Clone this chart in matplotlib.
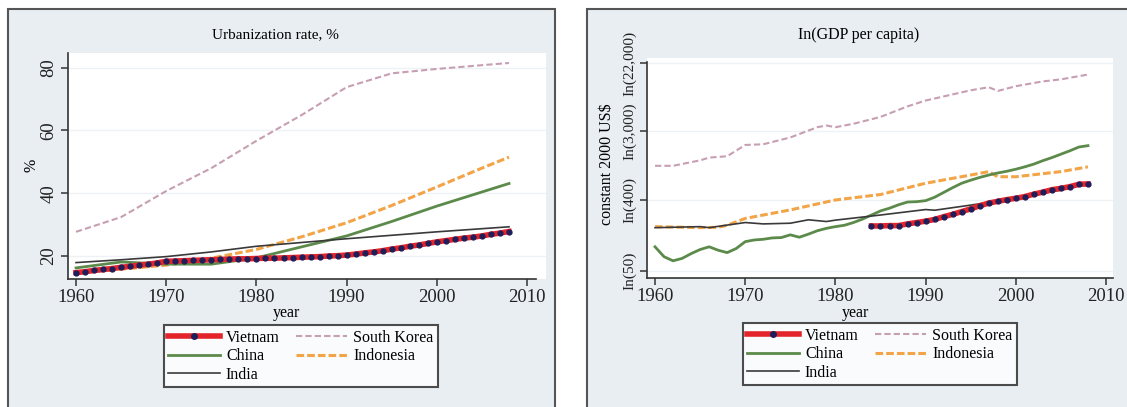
import numpy as np
import matplotlib.pyplot as plt
from matplotlib.lines import Line2D
from matplotlib.patches import Rectangle

plt.rcParams['font.family'] = ['Liberation Serif', 'DejaVu Serif']

W, H = 1127, 407

# ---- urbanization rate, % ----
urb_years = [1960, 1965, 1970, 1975, 1980, 1985, 1990, 1995, 2000, 2005, 2008]
urb_korea = [27.7, 32.4, 40.7, 48.0, 56.7, 64.9, 73.8, 78.2, 79.6, 80.8, 81.5]
urb_china = [16.2, 18.1, 17.4, 17.4, 19.4, 22.9, 26.4, 31.0, 35.9, 40.4, 43.1]
urb_indonesia = [14.6, 15.8, 17.1, 19.3, 22.1, 26.1, 30.6, 36.1, 42.0, 48.0, 51.5]
urb_india = [17.9, 18.8, 19.8, 21.3, 23.1, 24.3, 25.5, 26.6, 27.7, 28.7, 29.3]

vn_urb_years = list(range(1960, 2009))
vn_urb = [14.7, 15.0, 15.4, 15.7, 16.0, 16.4, 16.7, 17.1, 17.4, 17.8,
          18.3, 18.4, 18.5, 18.6, 18.7, 18.8, 18.9, 19.0, 19.1, 19.1,
          19.2, 19.3, 19.3, 19.4, 19.5, 19.6, 19.7, 19.8, 20.0, 20.1,
          20.3, 20.6, 21.0, 21.3, 21.7, 22.2, 22.6, 23.1, 23.5, 24.0,
          24.5, 24.9, 25.3, 25.7, 26.0, 26.4, 26.9, 27.3, 27.8]

# ---- ln(GDP per capita), constant 2000 US$ ----
kor_years = [1960, 1962, 1965, 1966, 1968, 1970, 1972, 1975, 1978, 1979, 1980,
             1982, 1985, 1988, 1990, 1995, 1997, 1998, 2000, 2003, 2005, 2008]
kor_gdp = [6.99, 6.99, 7.15, 7.23, 7.27, 7.60, 7.62, 7.82, 8.12, 8.17, 8.12,
           8.22, 8.42, 8.73, 8.90, 9.20, 9.29, 9.18, 9.32, 9.46, 9.52, 9.66]

idn_years = [1960, 1965, 1967, 1968, 1970, 1975, 1980, 1985, 1990, 1995,
             1997, 1998, 2000, 2005, 2008]
idn_gdp = [5.21, 5.18, 5.19, 5.25, 5.45, 5.70, 5.99, 6.15, 6.48, 6.72,
           6.82, 6.67, 6.67, 6.82, 6.96]

chn_years = list(range(1960, 2009))
chn_gdp = [4.62, 4.33, 4.21, 4.28, 4.42, 4.54, 4.62, 4.52, 4.45, 4.57,
           4.77, 4.82, 4.84, 4.88, 4.89, 4.97, 4.90, 4.99, 5.09, 5.16,
           5.21, 5.25, 5.33, 5.43, 5.55, 5.67, 5.75, 5.85, 5.93, 5.94,
           5.97, 6.07, 6.21, 6.35, 6.48, 6.57, 6.65, 6.72, 6.78, 6.83,
           6.89, 6.96, 7.04, 7.14, 7.23, 7.33, 7.43, 7.54, 7.58]

ind_years = [1960, 1965, 1966, 1970, 1972, 1975, 1977, 1979, 1980, 1985,
             1990, 1991, 1995, 2000, 2005, 2008]
ind_gdp = [5.18, 5.21, 5.18, 5.33, 5.29, 5.31, 5.41, 5.36, 5.40, 5.55,
           5.71, 5.69, 5.84, 6.04, 6.28, 6.47]

vn_gdp_years = list(range(1984, 2009))
vn_gdp = [5.23, 5.23, 5.24, 5.24, 5.29, 5.33, 5.37, 5.42, 5.50, 5.57,
          5.65, 5.73, 5.82, 5.90, 5.95, 6.00, 6.04, 6.09, 6.16, 6.22,
          6.29, 6.33, 6.38, 6.45, 6.46]

gdp_ticks = [50, 400, 3000, 22000]
gdp_ticklabels = ['In(50)', 'In(400)', 'In(3,000)', 'In(22,000)']

C_VN, C_VN_M = '#e3242b', '#1f1d5a'
C_CHN = '#5b8a4a'
C_IND = '#3a3a3a'
C_KOR = '#c79fb2'
C_IDN = '#f2a447'
BG = '#e8eef2'
FS = 11.5


def fx(px):
    return px / W


def fy(py):
    return 1 - py / H


fig = plt.figure(figsize=(W / 100, H / 100), dpi=100)

# panel frames
for x0, x1 in [(8, 555), (587, 1140)]:
    fig.patches.append(Rectangle((fx(x0), fy(420)), fx(x1) - fx(x0), fy(9) - fy(420),
                                 transform=fig.transFigure, facecolor=BG,
                                 edgecolor='#555555', linewidth=1.5, zorder=-5))


def style_axes(ax, ysize):
    ax.set_facecolor('white')
    for s in ['top', 'right']:
        ax.spines[s].set_visible(False)
    for s in ['left', 'bottom']:
        ax.spines[s].set_color('#333333')
        ax.spines[s].set_linewidth(1.2)
    ax.tick_params(direction='out', length=5, width=1.1, color='#333333',
                   labelcolor='#222222', pad=2.5)
    ax.tick_params(axis='x', labelsize=13.5)
    ax.tick_params(axis='y', labelsize=ysize)
    ax.grid(axis='y', color='#eef2f5', linewidth=1)
    ax.set_axisbelow(True)
    ax.set_xticks([1960, 1970, 1980, 1990, 2000, 2010])
    for lab in ax.get_yticklabels():
        lab.set_rotation(90)
        lab.set_va('center')


def add_legend(ax, cx, top):
    handles = [
        Line2D([], [], color=C_VN, lw=4, marker='o', ms=4, mfc=C_VN_M, mec=C_VN_M),
        Line2D([], [], color=C_CHN, lw=2),
        Line2D([], [], color=C_IND, lw=1.2),
        Line2D([], [], color=C_KOR, lw=1.5, ls=(0, (3, 1.5))),
        Line2D([], [], color=C_IDN, lw=2.2, ls=(0, (2.5, 1))),
    ]
    labels = ['Vietnam', 'China', 'India', 'South Korea', 'Indonesia']
    leg = ax.legend(handles, labels, ncol=2, loc='upper center',
                    bbox_to_anchor=(fx(cx), fy(top)), bbox_transform=fig.transFigure,
                    fontsize=FS, frameon=True, fancybox=False, handlelength=3.2,
                    handletextpad=0.4, columnspacing=1.0, labelspacing=0.15,
                    borderpad=0.3, borderaxespad=0)
    leg.get_frame().set_edgecolor('#222222')
    leg.get_frame().set_linewidth(1.5)


# ---- left panel ----
ax1 = fig.add_axes([fx(68), fy(279), fx(546) - fx(68), fy(53) - fy(279)])
ax1.plot(urb_years, urb_korea, color=C_KOR, lw=1.5, ls=(0, (3, 1.5)))
ax1.plot(urb_years, urb_indonesia, color=C_IDN, lw=2.2, ls=(0, (2.5, 1)))
ax1.plot(urb_years, urb_china, color=C_CHN, lw=2)
ax1.plot(urb_years, urb_india, color=C_IND, lw=1.2)
ax1.plot(vn_urb_years, vn_urb, color=C_VN, lw=4, marker='o', ms=3.5,
         mfc=C_VN_M, mec=C_VN_M)
ax1.set_xlim(1959.11, 2012.1)
ax1.set_ylim(12.67, 84.68)
ax1.spines['bottom'].set_bounds(1959.11, 2011)
ax1.set_yticks([20, 40, 60, 80])
style_axes(ax1, 13.5)
fig.text(fx(32), fy(165), '%', rotation=90, ha='center', va='center', fontsize=FS)
fig.text(fx(286), fy(313), 'year', ha='center', va='center', fontsize=FS)
fig.text(fx(275), fy(35), 'Urbanization rate, %', ha='center', va='center', fontsize=11)
add_legend(ax1, 301, 325)

# ---- right panel ----
ax2 = fig.add_axes([fx(647), fy(278), fx(1113) - fx(647), fy(58) - fy(278)])
ax2.plot(kor_years, kor_gdp, color=C_KOR, lw=1.5, ls=(0, (3, 1.5)))
ax2.plot(idn_years, idn_gdp, color=C_IDN, lw=2.2, ls=(0, (2.5, 1)))
ax2.plot(chn_years, chn_gdp, color=C_CHN, lw=2)
ax2.plot(ind_years, ind_gdp, color=C_IND, lw=1.2)
ax2.plot(vn_gdp_years, vn_gdp, color=C_VN, lw=4, marker='o', ms=3.5,
         mfc=C_VN_M, mec=C_VN_M)
ax2.set_xlim(1959.11, 2010.78)
ax2.set_ylim(3.707, 10.145)
ax2.spines['left'].set_bounds(3.707, 10.03)
ax2.set_yticks(np.log(gdp_ticks))
ax2.set_yticklabels(gdp_ticklabels)
style_axes(ax2, 11)
fig.text(fx(607), fy(164), 'constant 2000 US$', rotation=90, ha='center', va='center',
         fontsize=FS)
fig.text(fx(855), fy(313), 'year', ha='center', va='center', fontsize=FS)
fig.text(fx(859), fy(35), 'In(GDP per capita)', ha='center', va='center', fontsize=FS)
add_legend(ax2, 880, 323)

fig.savefig('out.png', dpi=100)
